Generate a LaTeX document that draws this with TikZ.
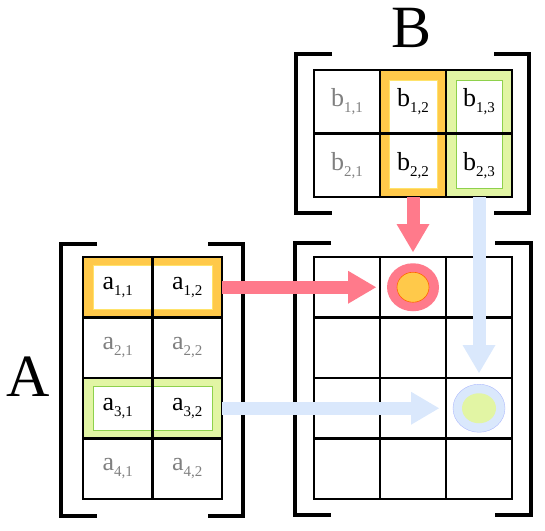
\documentclass[tikz,border=0pt]{standalone}
\usepackage{fontspec}
\setmainfont{Liberation Serif}
\usepackage{tikz}
\usetikzlibrary{arrows.meta,backgrounds}
\definecolor{mxred}{HTML}{FF7A8B}
\definecolor{mxyellow}{HTML}{FFC94A}
\definecolor{mxlight}{HTML}{FFE36B}
\definecolor{mxgreen}{HTML}{E2F5A4}
\definecolor{mxlime}{HTML}{8ED14C}
\definecolor{mxblue}{HTML}{DAE8FC}
\definecolor{mxgray}{HTML}{808080}

% entry with a two-index subscript
\newcommand{\ent}[3]{#1\raisebox{-6pt}{\fontsize{15}{15}\selectfont #2,#3}}

\tikzset{
  acell/.style={draw, line width=2.5pt, minimum width=69.5pt, minimum height=60.5pt,
    inner sep=0pt, outer sep=0pt, font=\fontsize{26}{26}\selectfont},
  bcell/.style={acell, minimum width=66pt, minimum height=63.5pt},
  ccell/.style={acell, minimum width=66pt},
  dim/.style={text=mxgray},
  bracket/.style={line width=3.5pt},
  bigletter/.style={font=\fontsize{60}{60}\selectfont, inner sep=0pt},
  flow/.style={line width=13pt, -{Triangle[width=33pt,length=28pt,line width=0pt]}},
}

\begin{document}
\begin{tikzpicture}[x=1pt,y=-1pt]
  \useasboundingbox (0,0) rectangle (545,530);

  % Matrix A
  \node[acell] (a11) at (117.75,287.25) {\ent{a}{1}{1}};
  \node[acell] (a12) at (187.25,287.25) {\ent{a}{1}{2}};
  \node[acell, dim] (a21) at (117.75,347.75) {\ent{a}{2}{1}};
  \node[acell, dim] (a22) at (187.25,347.75) {\ent{a}{2}{2}};
  \node[acell] (a31) at (117.75,408.25) {\ent{a}{3}{1}};
  \node[acell] (a32) at (187.25,408.25) {\ent{a}{3}{2}};
  \node[acell, dim] (a41) at (117.75,468.75) {\ent{a}{4}{1}};
  \node[acell, dim] (a42) at (187.25,468.75) {\ent{a}{4}{2}};

  % Matrix B
  \node[bcell, dim] (b11) at (347,101.75) {\ent{b}{1}{1}};
  \node[bcell] (b12) at (413,101.75) {\ent{b}{1}{2}};
  \node[bcell] (b13) at (479,101.75) {\ent{b}{1}{3}};
  \node[bcell, dim] (b21) at (347,165.25) {\ent{b}{2}{1}};
  \node[bcell] (b22) at (413,165.25) {\ent{b}{2}{2}};
  \node[bcell] (b23) at (479,165.25) {\ent{b}{2}{3}};

  % Result grid
  \foreach \r/\y in {1/287.25,2/347.75,3/408.25,4/468.75}
    \foreach \c/\x in {1/347,2/413,3/479}
      \node[ccell] (c\r\c) at (\x,\y) {};

  % Highlighted rows and columns
  \begin{scope}[on background layer]
    \fill[mxyellow] (a11.north west) rectangle (a12.south east);
    \filldraw[fill=white, draw=mxlight, line width=1pt]
      ([shift={(10pt,-8pt)}]a11.north west) rectangle ([shift={(-10pt,8pt)}]a12.south east);
    \fill[mxgreen] (a31.north west) rectangle (a32.south east);
    \filldraw[fill=white, draw=mxlime, line width=1pt]
      ([shift={(10pt,-8pt)}]a31.north west) rectangle ([shift={(-10pt,8pt)}]a32.south east);
    \fill[mxyellow] (b12.north west) rectangle (b22.south east);
    \filldraw[fill=white, draw=mxlight, line width=1pt]
      ([shift={(9pt,-10pt)}]b12.north west) rectangle ([shift={(-9pt,9pt)}]b22.south east);
    \fill[mxgreen] (b13.north west) rectangle (b23.south east);
    \filldraw[fill=white, draw=mxlime, line width=1pt]
      ([shift={(10pt,-10pt)}]b13.north west) rectangle ([shift={(-10pt,9pt)}]b23.south east);
  \end{scope}

  % Brackets
  \draw[bracket] (97,244) -- (61,244) -- (61,516) -- (97,516);
  \draw[bracket] (208,244) -- (243,244) -- (243,516) -- (208,516);
  \draw[bracket] (332,54) -- (296,54) -- (296,213) -- (332,213);
  \draw[bracket] (494,54) -- (529,54) -- (529,213) -- (494,213);
  \draw[bracket] (331,243) -- (295,243) -- (295,515) -- (331,515);
  \draw[bracket] (495,243) -- (531,243) -- (531,515) -- (495,515);

  % Matrix names
  \node[bigletter] (nameA) at (28,377) {A};
  \node[bigletter] (nameB) at (412,28) {B};

  % Result entries
  \fill[mxred] (c12) ellipse [x radius=26pt, y radius=24pt];
  \filldraw[fill=mxyellow, draw=orange!80!red, line width=0.6pt] (c12) ellipse [x radius=16pt, y radius=15pt];
  \filldraw[fill=mxblue, draw=mxblue!80!blue, line width=0.4pt] (c33) ellipse [x radius=26pt, y radius=24pt];
  \fill[mxgreen] (c33) ellipse [x radius=17pt, y radius=15pt];

  % Arrows
  \draw[flow, mxred] (a12.east) -- ([xshift=-4pt]c12.west);
  \draw[flow, mxred] (b22.south) -- ([yshift=5pt]c12.north);
  \draw[flow, mxblue] (b23.south) -- ([yshift=5pt]c33.north);
  \draw[flow, mxblue] (a32.east) -- ([xshift=-7pt]c33.west);
\end{tikzpicture}
\end{document}
